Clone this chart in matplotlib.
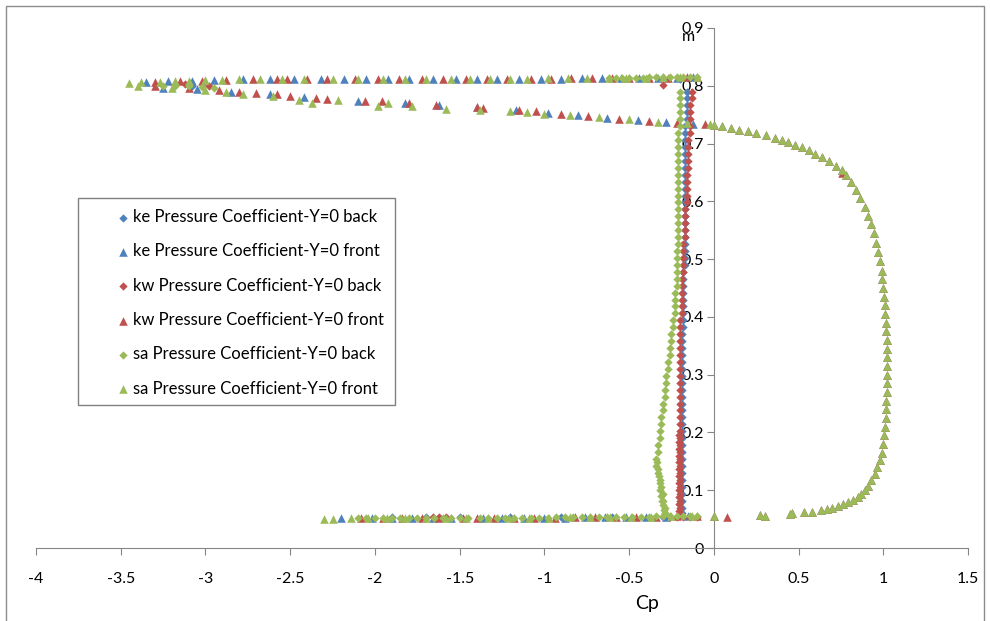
import matplotlib
matplotlib.use("Agg")
import matplotlib.pyplot as plt
from matplotlib.patches import Rectangle

plt.rcParams['font.family'] = ['Lato', 'DejaVu Sans']
plt.rcParams['axes.unicode_minus'] = False

# ---------------- data ----------------
series_labels = [
    "ke Pressure Coefficient-Y=0 back",
    "ke Pressure Coefficient-Y=0 front",
    "kw Pressure Coefficient-Y=0 back",
    "kw Pressure Coefficient-Y=0 front",
    "sa Pressure Coefficient-Y=0 back",
    "sa Pressure Coefficient-Y=0 front",
]
x_ticks = [-4, -3.5, -3, -2.5, -2, -1.5, -1, -0.5, 0, 0.5, 1, 1.5]
x_tick_labels = ["-4", "-3.5", "-3", "-2.5", "-2", "-1.5", "-1", "-0.5", "0", "0.5", "1", "1.5"]
y_ticks = [0, 0.1, 0.2, 0.3, 0.4, 0.5, 0.6, 0.7, 0.8, 0.9]
y_tick_labels = ["0", "0.1", "0.2", "0.3", "0.4", "0.5", "0.6", "0.7", "0.8", "0.9"]

# back face (vertical) heights shared by the back series
back_y = [0.790, 0.778, 0.766, 0.754, 0.742, 0.730, 0.718, 0.706, 0.694, 0.682,
          0.670, 0.658, 0.646, 0.634, 0.622, 0.610, 0.598, 0.586, 0.574, 0.562,
          0.550, 0.538, 0.526, 0.514, 0.502, 0.490, 0.478, 0.466, 0.454, 0.442,
          0.430, 0.418, 0.406, 0.394, 0.382, 0.370, 0.358, 0.346, 0.334, 0.322,
          0.310, 0.298, 0.286, 0.274, 0.262, 0.250, 0.238, 0.226, 0.214, 0.202,
          0.190, 0.178, 0.166, 0.154, 0.142, 0.130, 0.118, 0.106, 0.094, 0.082,
          0.070, 0.060]
ke_back_vx = [-0.16, -0.16, -0.16, -0.16, -0.16, -0.17, -0.17, -0.17, -0.17, -0.17,
              -0.17, -0.17, -0.17, -0.17, -0.17, -0.17, -0.17, -0.17, -0.17, -0.17,
              -0.17, -0.17, -0.17, -0.17, -0.17, -0.17, -0.18, -0.18, -0.18, -0.18,
              -0.18, -0.18, -0.18, -0.18, -0.18, -0.19, -0.19, -0.19, -0.19, -0.19,
              -0.19, -0.19, -0.19, -0.19, -0.19, -0.19, -0.19, -0.19, -0.19, -0.19,
              -0.19, -0.19, -0.19, -0.19, -0.19, -0.19, -0.19, -0.19, -0.19, -0.19,
              -0.19, -0.19]
kw_back_vx = [-0.13, -0.13, -0.14, -0.14, -0.14, -0.14, -0.14, -0.15, -0.15, -0.15,
              -0.15, -0.15, -0.16, -0.16, -0.16, -0.16, -0.16, -0.17, -0.17, -0.17,
              -0.17, -0.17, -0.18, -0.18, -0.18, -0.18, -0.18, -0.19, -0.19, -0.19,
              -0.19, -0.19, -0.19, -0.20, -0.20, -0.20, -0.20, -0.20, -0.20, -0.20,
              -0.20, -0.20, -0.20, -0.20, -0.20, -0.20, -0.20, -0.20, -0.20, -0.20,
              -0.20, -0.20, -0.20, -0.20, -0.20, -0.20, -0.20, -0.20, -0.20, -0.20,
              -0.20, -0.20]
sa_back_vx = [-0.20, -0.20, -0.20, -0.20, -0.20, -0.20, -0.21, -0.21, -0.21, -0.21,
              -0.21, -0.21, -0.21, -0.21, -0.21, -0.21, -0.21, -0.21, -0.21, -0.21,
              -0.21, -0.21, -0.21, -0.22, -0.22, -0.22, -0.22, -0.22, -0.22, -0.23,
              -0.23, -0.23, -0.23, -0.24, -0.24, -0.25, -0.25, -0.26, -0.26, -0.27,
              -0.27, -0.28, -0.28, -0.29, -0.29, -0.30, -0.30, -0.31, -0.31, -0.32,
              -0.32, -0.33, -0.33, -0.34, -0.34, -0.33, -0.32, -0.31, -0.30, -0.30,
              -0.29, -0.29]

# extra dense lower parts of the back face
kw_back_low_x = [-0.205, -0.205, -0.205, -0.205, -0.205, -0.205, -0.205, -0.205, -0.205, -0.205, -0.205, -0.205]
kw_back_low_y = [0.196, 0.184, 0.172, 0.160, 0.148, 0.136, 0.124, 0.112, 0.100, 0.088, 0.076, 0.064]
sa_back_low_x = [-0.335, -0.330, -0.325, -0.320, -0.315, -0.310, -0.305, -0.300, -0.295, -0.290]
sa_back_low_y = [0.148, 0.136, 0.124, 0.112, 0.100, 0.090, 0.082, 0.074, 0.066, 0.060]

# back series on the top (roof) line
ke_back_top_x = [-3.08, -0.20]
ke_back_top_y = [0.800, 0.812]
kw_back_top_x = [-3.12, -2.98, -0.30]
kw_back_top_y = [0.803, 0.800, 0.802]
sa_back_top_x = [-3.25, -3.18, -3.10, -3.02, -2.95, -0.62, -0.58, -0.54, -0.50, -0.46,
                 -0.42, -0.38, -0.34, -0.30, -0.26, -0.22, -0.18, -0.14, -0.10]
sa_back_top_y = [0.800, 0.799, 0.799, 0.798, 0.797, 0.814, 0.814, 0.814, 0.814, 0.814,
                 0.814, 0.815, 0.815, 0.815, 0.815, 0.815, 0.815, 0.816, 0.816]

# back series on the bottom (floor) line
ke_back_bot_x = [-1.90, -1.70, -1.50, -1.20, -0.90, -0.60, -0.30]
ke_back_bot_y = [0.053, 0.053, 0.053, 0.053, 0.053, 0.053, 0.053]
kw_back_bot_x = [-1.66, -1.62, -1.58, -0.26, -0.22, -0.18, -0.14, -0.10]
kw_back_bot_y = [0.053, 0.053, 0.053, 0.054, 0.054, 0.054, 0.054, 0.054]
sa_back_bot_x = [-2.10, -2.05, -2.00, -1.95, -1.90, -1.85, -1.80, -1.75, -1.70, -1.65,
                 -1.60, -1.55, -1.50, -1.45, -1.38, -1.33, -1.28, -1.23, -1.18, -1.13,
                 -1.08, -1.03, -0.98, -0.93, -0.88, -0.83, -0.78, -0.73, -0.68, -0.63,
                 -0.58, -0.53, -0.48, -0.43, -0.38, -0.34, -0.30, -0.26, -0.22, -0.18,
                 -0.14, -0.10]
sa_back_bot_y = [0.052, 0.052, 0.052, 0.052, 0.052, 0.052, 0.052, 0.052, 0.052, 0.052,
                 0.052, 0.052, 0.052, 0.052, 0.052, 0.052, 0.052, 0.052, 0.052, 0.052,
                 0.052, 0.052, 0.052, 0.053, 0.053, 0.053, 0.053, 0.053, 0.053, 0.053,
                 0.053, 0.053, 0.054, 0.054, 0.054, 0.055, 0.055, 0.055, 0.055, 0.055,
                 0.055, 0.055]

# front series: top line
ke_front_top_x = [-3.35, -3.22, -3.08, -2.95, -2.78, -2.62, -2.48, -2.32, -2.18, -2.05,
                  -1.92, -1.80, -1.66, -1.52, -1.40, -1.28, -1.15, -1.02, -0.90, -0.78,
                  -0.66, -0.55, -0.44, -0.33, -0.22, -0.12]
ke_front_top_y = [0.807, 0.808, 0.809, 0.810, 0.811, 0.811, 0.811, 0.812, 0.812, 0.812,
                  0.812, 0.812, 0.812, 0.812, 0.812, 0.812, 0.812, 0.812, 0.812, 0.813,
                  0.813, 0.813, 0.813, 0.814, 0.814, 0.815]
kw_front_top_x = [-3.30, -3.15, -3.02, -2.88, -2.72, -2.58, -2.52, -2.40, -2.28, -2.12,
                  -1.98, -1.86, -1.72, -1.60, -1.46, -1.34, -1.22, -1.08, -0.96, -0.84,
                  -0.72, -0.60, -0.50, -0.38, -0.27, -0.16, -0.10]
kw_front_top_y = [0.807, 0.808, 0.809, 0.810, 0.811, 0.811, 0.811, 0.811, 0.812, 0.812,
                  0.812, 0.812, 0.812, 0.812, 0.812, 0.812, 0.812, 0.812, 0.812, 0.813,
                  0.813, 0.813, 0.813, 0.814, 0.814, 0.815, 0.816]
sa_front_top_x = [-3.45, -3.38, -3.27, -3.18, -3.10, -3.00, -2.90, -2.80, -2.68, -2.55,
                  -2.42, -2.25, -2.10, -1.95, -1.82, -1.70, -1.55, -1.44, -1.32, -1.20,
                  -1.10, -0.98, -0.86, -0.75, -0.62, -0.52, -0.40, -0.30, -0.20, -0.10]
sa_front_top_y = [0.805, 0.806, 0.807, 0.808, 0.809, 0.810, 0.810, 0.811, 0.811, 0.811,
                  0.812, 0.812, 0.812, 0.812, 0.812, 0.812, 0.812, 0.812, 0.812, 0.812,
                  0.812, 0.813, 0.813, 0.813, 0.813, 0.814, 0.814, 0.815, 0.815, 0.816]

# front series: descending roof line
ke_roof_x = [-3.25, -3.05, -2.85, -2.62, -2.42, -2.10, -1.82, -1.62, -1.40, -1.17,
             -0.98, -0.80, -0.63, -0.45, -0.28, -0.12]
ke_roof_y = [0.797, 0.795, 0.790, 0.786, 0.781, 0.774, 0.771, 0.767, 0.763, 0.758,
             0.753, 0.749, 0.745, 0.741, 0.737, 0.734]
kw_roof_x = [-3.30, -3.10, -2.92, -2.80, -2.70, -2.58, -2.50, -2.35, -2.28, -2.06,
             -1.96, -1.80, -1.64, -1.40, -1.36, -1.15, -1.05, -0.90, -0.74, -0.56,
             -0.38, -0.22, -0.05]
kw_roof_y = [0.799, 0.796, 0.792, 0.789, 0.787, 0.785, 0.783, 0.779, 0.777, 0.774,
             0.773, 0.770, 0.766, 0.764, 0.762, 0.758, 0.756, 0.752, 0.748, 0.743,
             0.739, 0.736, 0.733]
sa_roof_x = [-3.40, -3.20, -3.00, -2.88, -2.78, -2.60, -2.45, -2.37, -2.22, -1.98,
             -1.92, -1.78, -1.58, -1.38, -1.20, -1.10, -1.00, -0.85, -0.68, -0.50,
             -0.33, -0.16, -0.02]
sa_roof_y = [0.800, 0.796, 0.793, 0.789, 0.786, 0.782, 0.776, 0.770, 0.776, 0.765,
             0.771, 0.765, 0.760, 0.758, 0.757, 0.754, 0.752, 0.750, 0.746, 0.742,
             0.738, 0.735, 0.733]

# front face (positive Cp), common to the three models
face_x = [0.00, 0.05, 0.10, 0.15, 0.20, 0.25, 0.31, 0.36, 0.40, 0.44,
          0.48, 0.52, 0.56, 0.60, 0.64, 0.68, 0.72, 0.755, 0.78, 0.81,
          0.84, 0.865, 0.89, 0.91, 0.93, 0.945, 0.96, 0.97, 0.98, 0.99,
          0.995, 1.00, 1.005, 1.01, 1.012, 1.015, 1.018, 1.02, 1.02, 1.02,
          1.02, 1.02, 1.02, 1.02, 1.018, 1.016, 1.014, 1.01, 1.005, 1.00,
          0.99, 0.98, 0.965, 0.95, 0.93, 0.91, 0.89, 0.87, 0.85, 0.82,
          0.79, 0.76, 0.73, 0.70, 0.67, 0.63, 0.58, 0.53, 0.46, 0.45,
          0.30, 0.27, 0.00]
face_y = [0.732, 0.730, 0.727, 0.724, 0.721, 0.718, 0.714, 0.710, 0.706, 0.702,
          0.698, 0.694, 0.688, 0.682, 0.676, 0.669, 0.662, 0.654, 0.645, 0.634,
          0.620, 0.606, 0.590, 0.575, 0.560, 0.545, 0.528, 0.512, 0.496, 0.480,
          0.465, 0.450, 0.435, 0.420, 0.405, 0.390, 0.375, 0.360, 0.345, 0.330,
          0.315, 0.300, 0.285, 0.270, 0.255, 0.240, 0.225, 0.210, 0.195, 0.180,
          0.165, 0.152, 0.140, 0.128, 0.117, 0.108, 0.100, 0.094, 0.088, 0.083,
          0.079, 0.076, 0.073, 0.070, 0.068, 0.066, 0.063, 0.062, 0.060, 0.058,
          0.056, 0.057, 0.055]
kw_face_extra_x = [0.755, 0.08]
kw_face_extra_y = [0.649, 0.053]

# front series: bottom line
ke_front_bot_x = [-2.20, -2.02, -1.90, -1.78, -1.66, -1.55, -1.36, -1.25, -1.12, -1.00,
                  -0.88, -0.76, -0.64, -0.52, -0.40, -0.28, -0.15]
ke_front_bot_y = [0.052, 0.052, 0.052, 0.052, 0.052, 0.052, 0.052, 0.052, 0.052, 0.052,
                  0.052, 0.053, 0.053, 0.053, 0.054, 0.054, 0.055]
kw_front_bot_x = [-2.08, -1.95, -1.84, -1.72, -1.62, -1.48, -1.40, -1.30, -1.18, -1.06,
                  -0.94, -0.82, -0.70, -0.58, -0.46, -0.34, -0.22, -0.10]
kw_front_bot_y = [0.052, 0.052, 0.052, 0.052, 0.052, 0.052, 0.052, 0.052, 0.052, 0.052,
                  0.052, 0.053, 0.053, 0.053, 0.054, 0.054, 0.055, 0.055]
sa_front_bot_x = [-2.30, -2.25, -2.14, -2.04, -1.93, -1.82, -1.70, -1.58, -1.46, -1.33,
                  -1.21, -1.09, -0.97, -0.85, -0.73, -0.61, -0.49, -0.37, -0.25, -0.13]
sa_front_bot_y = [0.051, 0.051, 0.052, 0.052, 0.052, 0.052, 0.052, 0.052, 0.052, 0.052,
                  0.052, 0.052, 0.052, 0.053, 0.053, 0.053, 0.054, 0.054, 0.055, 0.055]

# assemble the six series
ke_back_x = ke_back_vx + ke_back_top_x + ke_back_bot_x
ke_back_yy = back_y + ke_back_top_y + ke_back_bot_y
kw_back_x = kw_back_vx + kw_back_low_x + kw_back_top_x + kw_back_bot_x
kw_back_yy = back_y + kw_back_low_y + kw_back_top_y + kw_back_bot_y
sa_back_x = sa_back_vx + sa_back_low_x + sa_back_top_x + sa_back_bot_x
sa_back_yy = back_y + sa_back_low_y + sa_back_top_y + sa_back_bot_y

ke_front_x = ke_front_top_x + ke_roof_x + face_x + ke_front_bot_x
ke_front_y = ke_front_top_y + ke_roof_y + face_y + ke_front_bot_y
kw_front_x = kw_front_top_x + kw_roof_x + face_x + kw_face_extra_x + kw_front_bot_x
kw_front_y = kw_front_top_y + kw_roof_y + face_y + kw_face_extra_y + kw_front_bot_y
sa_front_x = sa_front_top_x + sa_roof_x + face_x + sa_front_bot_x
sa_front_y = sa_front_top_y + sa_roof_y + face_y + sa_front_bot_y

series = [
    (ke_back_x, ke_back_yy, "#4F81BD", "D"),
    (ke_front_x, ke_front_y, "#4F81BD", "^"),
    (kw_back_x, kw_back_yy, "#C0504D", "D"),
    (kw_front_x, kw_front_y, "#C0504D", "^"),
    (sa_back_x, sa_back_yy, "#9BBB59", "D"),
    (sa_front_x, sa_front_y, "#9BBB59", "^"),
]

# ---------------- figure ----------------
W, H = 990, 621
fig = plt.figure(figsize=(W / 100, H / 100), dpi=100)
fig.patch.set_facecolor("white")
fig.add_artist(Rectangle((6 / W, -0.05), (984 - 6) / W, 1.05 - 6 / H,
                         transform=fig.transFigure, fill=False,
                         edgecolor="#8c8c8c", linewidth=1.0))

ax = fig.add_axes([36 / W, 73 / H, 932 / W, 520 / H])
ax.set_xlim(-4, 1.5)
ax.set_ylim(0, 0.9)

axis_col = "#868686"
for s in ("top", "right"):
    ax.spines[s].set_visible(False)
ax.spines["left"].set_position(("data", 0))
ax.spines["left"].set_color(axis_col)
ax.spines["bottom"].set_color(axis_col)
ax.set_axisbelow(True)

ax.set_xticks(x_ticks)
ax.set_xticklabels(x_tick_labels)
ax.set_yticks(y_ticks)
ax.set_yticklabels(y_tick_labels)
ax.tick_params(axis="x", direction="out", length=5, color=axis_col,
               labelsize=11.5, pad=12, labelcolor="black")
ax.tick_params(axis="y", direction="out", length=5, color=axis_col,
               labelsize=11.5, pad=2, labelcolor="black")

for (xs, ys, col, mk), lab in zip(series, series_labels):
    size = 18 if mk == "D" else 38
    ax.scatter(xs, ys, s=size, marker=mk, color=col, linewidths=0,
               label=lab, zorder=3, clip_on=False)

fig.text(688 / W, 1 - 37 / H, "m", ha="center", va="center", fontsize=11.5)
fig.text(647 / W, 1 - 604 / H, "Cp", ha="center", va="center", fontsize=14)

# legend box drawn as in the reference, entries placed inside it
legend_box = Rectangle((78 / W, 1 - 405 / H), (395 - 78) / W, (405 - 198) / H,
                       transform=fig.transFigure, facecolor="white",
                       edgecolor="#808080", linewidth=1.0, zorder=4,
                       clip_on=False)
ax.add_patch(legend_box)
leg = ax.legend(loc="upper left", bbox_to_anchor=(108 / W, 1 - 204 / H),
                bbox_transform=fig.transFigure, frameon=False,
                fontsize=12, labelspacing=1.1,
                handletextpad=0.0, handlelength=1.2, borderpad=0.3,
                borderaxespad=0, scatterpoints=1)
leg.set_zorder(5)

fig.savefig("out.png", dpi=100)
